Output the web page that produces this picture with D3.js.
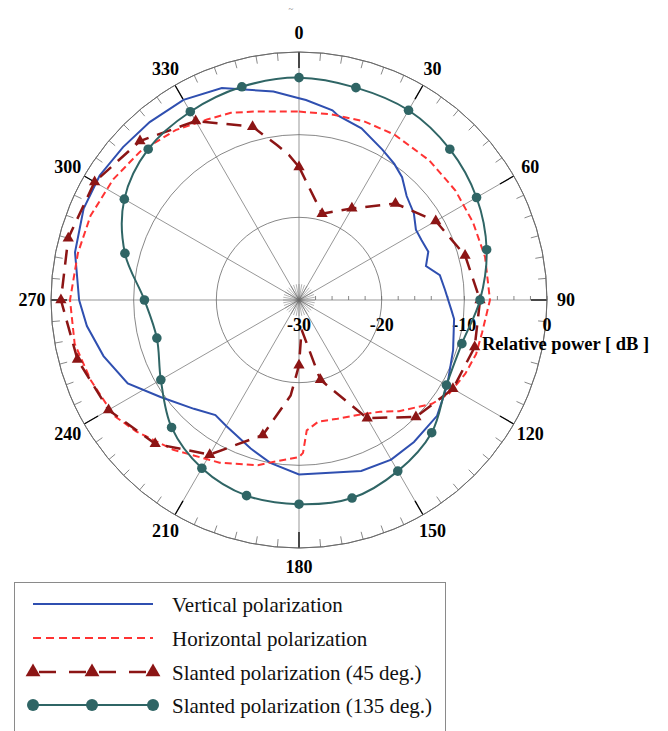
<!DOCTYPE html>
<html>
<head>
<meta charset="utf-8">
<script src="https://cdn.jsdelivr.net/npm/d3@7"></script>
<style>
  body { margin: 0; background: #fff; }
  text { font-family: "Liberation Serif", "Times New Roman", serif; }
</style>
</head>
<body>
<svg id="chart" width="668" height="731"></svg>
<script>
// ---- data (angle in degrees, level in dB) ----
const angleTicks = [0, 30, 60, 90, 120, 150, 180, 210, 240, 270, 300, 330];
const radialTicks = [-30, -20, -10, 0];
const radialTitle = "Relative power [ dB ]";

const vertAngles = [0, 2, 10, 12, 20, 29, 35, 40, 46, 53, 59, 64, 69.5, 75, 80, 86, 94, 97, 108, 120, 130, 141, 150, 160, 180, 190, 198, 210, 216, 224, 235, 244, 254, 263, 270, 282, 293, 302, 311, 320, 330, 340, 353];
const vertValues = [-5.6, -5.8, -6.7, -7.2, -7.9, -9.2, -9.9, -10.6, -11.9, -12.6, -13.5, -13.5, -13.3, -14.1, -12.7, -12.3, -11.5, -11.1, -10.4, -9.3, -8.2, -7.9, -7.7, -8.0, -8.9, -10.0, -11.1, -12.4, -12.8, -11.7, -9.55, -6.95, -5.4, -4.15, -3.4, -2.3, -1.7, -1.57, -1.8, -1.9, -2.05, -2.7, -4.6];

const horAngles = [0, 10, 20, 30, 43, 55, 66, 77, 90, 100, 107, 114, 122, 128, 138, 144, 153, 162, 171, 176.6, 178.5, 180, 191, 194, 206, 220, 231, 238, 249, 259, 270, 282, 292, 303, 313, 324, 333, 340, 347];
const horValues = [-7.2, -7.2, -7.0, -6.9, -6.9, -6.9, -6.95, -6.9, -6.9, -7.5, -7.6, -8.0, -8.6, -9.6, -11.9, -13.3, -14.4, -14.9, -15.1, -14.2, -11.5, -11.0, -9.9, -9.4, -8.1, -6.35, -4.7, -3.6, -3.0, -2.35, -2.3, -2.66, -2.8, -3.2, -3.7, -4.6, -5.5, -5.9, -6.6];

const slant45Angles = [0, 15, 30, 45, 60, 75, 90, 105, 120, 135, 150, 165, 175, 180, 185, 195, 210, 225, 240, 255, 270, 285, 300, 315, 330, 345, 352, 356];
const slant45Values = [-13.9, -19.2, -17.2, -13.5, -10.9, -9.2, -8.1, -8.0, -8.5, -10.0, -13.5, -20.0, -26.4, -22.1, -18.4, -13.1, -8.4, -5.4, -3.4, -2.25, -1.2, -1.1, -1.45, -2.8, -5.0, -8.3, -11.1, -12.4];

const slant135Angles = [0, 15, 30, 45, 60, 75, 90, 105, 120, 135, 150, 165, 180, 195, 210, 225, 240, 255, 270, 285, 300, 315, 330, 345];
const slant135Values = [-3.1, -3.4, -3.5, -4.2, -5.2, -6.5, -8.1, -9.6, -9.4, -7.3, -6.1, -5.2, -5.3, -5.5, -6.5, -8.2, -10.7, -12.2, -11.3, -8.2, -5.6, -4.2, -3.7, -3.3];

const legendLabels = [
  "Vertical polarization",
  "Horizontal polarization",
  "Slanted polarization (45 deg.)",
  "Slanted polarization (135 deg.)"
];

// ---- styles ----
const BLUE = "#2f4fb0", RED = "#ff3333", DARKRED = "#8c1515", TEAL = "#2f6565", GRID = "#6a6a6a";

const svg = d3.select("#chart");
const cx = 299, cy = 300, R = 248;

const rScale = d3.scaleLinear().domain([-30, 0]).range([0, R]);
const aScale = d3.scaleLinear().domain([0, 360]).range([0, 2 * Math.PI]);
const px = (deg, v) => rScale(v) * Math.sin(aScale(deg));
const py = (deg, v) => -rScale(v) * Math.cos(aScale(deg));

const g = svg.append("g").attr("transform", `translate(${cx},${cy})`);

// rings
g.selectAll("circle.ring").data(radialTicks.filter(d => d > -30))
  .join("circle").attr("class", "ring")
  .attr("r", d => rScale(d)).attr("fill", "none")
  .attr("stroke", GRID).attr("stroke-width", 0.8);

// small star at the pole
g.selectAll("line.star").data(d3.range(0, 360, 10))
  .join("line").attr("class", "star")
  .attr("x1", 0).attr("y1", 0)
  .attr("x2", d => 16 * Math.sin(aScale(d)))
  .attr("y2", d => -16 * Math.cos(aScale(d)))
  .attr("stroke", GRID).attr("stroke-width", 0.5);

// spokes
g.selectAll("line.spoke").data(angleTicks)
  .join("line").attr("class", "spoke")
  .attr("x1", 0).attr("y1", 0)
  .attr("x2", d => px(d, 0)).attr("y2", d => py(d, 0))
  .attr("stroke", GRID).attr("stroke-width", 0.7);

// minor ticks on the rim
g.selectAll("line.minor").data(d3.range(0, 360, 5).filter(d => d % 30 !== 0))
  .join("line").attr("class", "minor")
  .attr("x1", d => R * Math.sin(aScale(d))).attr("y1", d => -R * Math.cos(aScale(d)))
  .attr("x2", d => (R - 8) * Math.sin(aScale(d))).attr("y2", d => -(R - 8) * Math.cos(aScale(d)))
  .attr("stroke", GRID).attr("stroke-width", 0.8);

// major ticks on the rim
g.selectAll("line.major").data(angleTicks)
  .join("line").attr("class", "major")
  .attr("x1", d => R * Math.sin(aScale(d))).attr("y1", d => -R * Math.cos(aScale(d)))
  .attr("x2", d => (R - 16) * Math.sin(aScale(d))).attr("y2", d => -(R - 16) * Math.cos(aScale(d)))
  .attr("stroke", "#000").attr("stroke-width", 1.3);

// outer rim
g.append("circle").attr("r", R).attr("fill", "none")
  .attr("stroke", GRID).attr("stroke-width", 1);

// radial axis ticks (every 2 dB along the 90 deg spoke)
g.selectAll("line.rtick").data(d3.range(-28, 0.1, 2))
  .join("line").attr("class", "rtick")
  .attr("x1", d => rScale(d)).attr("x2", d => rScale(d))
  .attr("y1", 0).attr("y2", -4)
  .attr("stroke", GRID).attr("stroke-width", 0.8);

// angle labels
g.selectAll("text.alab").data(angleTicks)
  .join("text").attr("class", "alab")
  .attr("x", d => 267 * Math.sin(aScale(d)))
  .attr("y", d => -267 * Math.cos(aScale(d)))
  .attr("text-anchor", "middle").attr("dominant-baseline", "central")
  .attr("font-weight", "bold").attr("font-size", 18)
  .text(d => d);

// radial labels
g.selectAll("text.rlab").data(radialTicks)
  .join("text").attr("class", "rlab")
  .attr("x", d => rScale(d)).attr("y", 31)
  .attr("text-anchor", "middle")
  .attr("font-weight", "bold").attr("font-size", 18)
  .text(d => d);

g.append("text").attr("x", 183).attr("y", 50)
  .attr("font-weight", "bold").attr("font-size", 18.5)
  .text(radialTitle);

// ---- curves ----
const zip = (a, v) => a.map((d, i) => [d, v[i]]);
const vert = zip(vertAngles, vertValues);
const hor = zip(horAngles, horValues);
const s45 = zip(slant45Angles, slant45Values);
const s135 = zip(slant135Angles, slant135Values);

const radial = d3.lineRadial()
  .angle(d => aScale(d[0]))
  .radius(d => rScale(d[1]));

g.append("path").datum(vert)
  .attr("d", radial.curve(d3.curveLinearClosed))
  .attr("fill", "none").attr("stroke", BLUE).attr("stroke-width", 2);

g.append("path").datum(hor)
  .attr("d", radial.curve(d3.curveLinearClosed))
  .attr("fill", "none").attr("stroke", RED).attr("stroke-width", 2)
  .attr("stroke-dasharray", "7,4");

g.append("path").datum(s45)
  .attr("d", radial.curve(d3.curveLinearClosed))
  .attr("fill", "none").attr("stroke", DARKRED).attr("stroke-width", 2.5)
  .attr("stroke-dasharray", "15,9");

const tri = d3.symbol(d3.symbolTriangle, 55);
g.selectAll("path.tri").data(s45.filter(d => d[0] % 15 === 0))
  .join("path").attr("class", "tri")
  .attr("d", tri)
  .attr("transform", d => `translate(${px(d[0], d[1])},${py(d[0], d[1])})`)
  .attr("fill", DARKRED);

g.append("path").datum(s135)
  .attr("d", radial.curve(d3.curveCatmullRomClosed.alpha(0.5)))
  .attr("fill", "none").attr("stroke", TEAL).attr("stroke-width", 2);

g.selectAll("circle.dot").data(s135)
  .join("circle").attr("class", "dot")
  .attr("cx", d => px(d[0], d[1])).attr("cy", d => py(d[0], d[1]))
  .attr("r", 4.8).attr("fill", TEAL);

// tiny mark above the chart
svg.append("text").attr("x", 291).attr("y", 12)
  .attr("text-anchor", "middle").attr("font-size", 9).attr("fill", "#777")
  .text("~");

// ---- legend ----
const lg = svg.append("g");
lg.append("rect").attr("x", 14.5).attr("y", 582.5)
  .attr("width", 431).attr("height", 170)
  .attr("fill", "none").attr("stroke", "#8a8a8a").attr("stroke-width", 1);

const rowsY = [604, 638, 672, 705];
const x0 = 33, x1 = 153, xm = 92;

lg.append("line").attr("x1", x0).attr("x2", x1).attr("y1", rowsY[0]).attr("y2", rowsY[0])
  .attr("stroke", BLUE).attr("stroke-width", 2);
lg.append("line").attr("x1", x0).attr("x2", x1).attr("y1", rowsY[1]).attr("y2", rowsY[1])
  .attr("stroke", RED).attr("stroke-width", 2).attr("stroke-dasharray", "8,5");
lg.append("line").attr("x1", x0).attr("x2", x1).attr("y1", rowsY[2]).attr("y2", rowsY[2])
  .attr("stroke", DARKRED).attr("stroke-width", 2.5).attr("stroke-dasharray", "17,13").attr("stroke-dashoffset", -6);
lg.selectAll("path.ltri").data([x0, xm, x1]).join("path").attr("class", "ltri")
  .attr("d", d3.symbol(d3.symbolTriangle, 95))
  .attr("transform", d => `translate(${d},${rowsY[2]})`)
  .attr("fill", DARKRED);
lg.append("line").attr("x1", x0).attr("x2", x1).attr("y1", rowsY[3]).attr("y2", rowsY[3])
  .attr("stroke", TEAL).attr("stroke-width", 2);
lg.selectAll("circle.ldot").data([x0, xm, x1]).join("circle").attr("class", "ldot")
  .attr("cx", d => d).attr("cy", rowsY[3]).attr("r", 6).attr("fill", TEAL);

lg.selectAll("text.ltxt").data(legendLabels).join("text").attr("class", "ltxt")
  .attr("x", 172).attr("y", (d, i) => rowsY[i] + 8)
  .attr("font-size", 21).attr("fill", "#111")
  .text(d => d);
</script>
</body>
</html>
